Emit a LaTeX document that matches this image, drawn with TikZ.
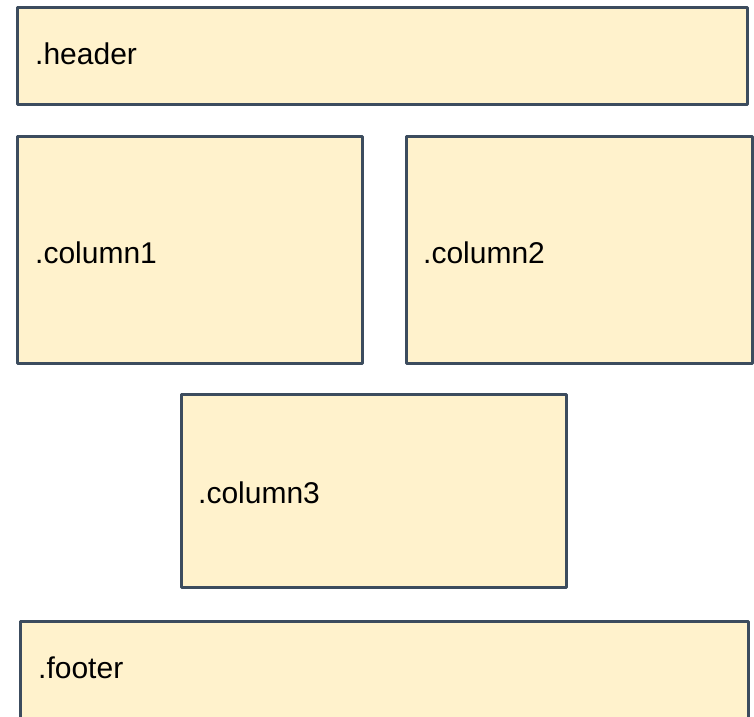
\documentclass[tikz,border=0pt]{standalone}
\usepackage{fontspec}
\setmainfont{Liberation Sans}
\definecolor{boxfill}{HTML}{FFF2CC}
\definecolor{boxline}{HTML}{3C4C5E}
\begin{document}
\begin{tikzpicture}[x=1pt,y=1pt,
  panel/.style={draw=boxline,fill=boxfill,line width=3pt,rectangle,inner sep=0pt,line join=round},
  lbl/.style={anchor=base west,inner sep=0pt,font=\fontsize{30}{36}\selectfont,text=black}]
\useasboundingbox (0,0) rectangle (754,716);
\clip (0,0) rectangle (754,716);
% pixel y measured from top: tikz y = 716 - y
\node[panel,minimum width=730pt,minimum height=97pt] (header) at (382,{716-56.5}) {};
\node[panel,minimum width=345pt,minimum height=226pt] (col1) at (189.5,{716-250}) {};
\node[panel,minimum width=346pt,minimum height=226pt] (col2) at (579,{716-250}) {};
\node[panel,minimum width=385pt,minimum height=193pt] (col3) at (373.5,{716-490.5}) {};
\node[panel,minimum width=728pt,minimum height=140pt] (footer) at (384,{716-691}) {};
\node[lbl] (headerlbl) at (35,{716-65}) {.header};
\node[lbl] (col1lbl) at (35,{716-263}) {.column1};
\node[lbl] (col2lbl) at (423,{716-263}) {.column2};
\node[lbl] (col3lbl) at (198,{716-503}) {.column3};
\node[lbl] (footerlbl) at (38,{716-678}) {.footer};
\end{tikzpicture}
\end{document}
